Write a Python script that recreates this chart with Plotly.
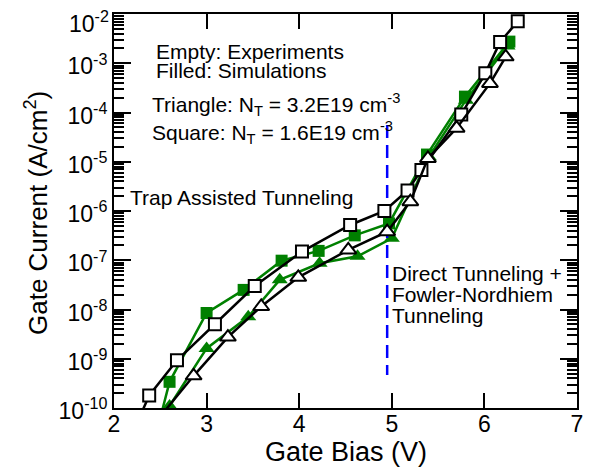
import plotly.graph_objects as go

# ---- data ----
exp_sq_x = [2.25, 2.38, 2.68, 3.09, 3.52, 4.03, 4.55, 4.92, 5.17, 5.32, 5.75, 6.01, 6.17, 6.36]
exp_sq_y = [5.0e-11, 1.8e-10, 9.3e-10, 5.0e-9, 3.0e-8, 1.5e-7, 5.2e-7, 1.0e-6, 2.6e-6, 6.8e-6, 9.1e-5, 6.3e-4, 2.7e-3, 7.1e-3]

exp_tri_x = [2.40, 2.86, 3.23, 3.59, 3.99, 4.53, 4.95, 5.20, 5.39, 5.70, 6.06, 6.23]
exp_tri_y = [4.0e-11, 4.5e-10, 2.75e-9, 1.15e-8, 4.5e-8, 1.62e-7, 3.8e-7, 1.55e-6, 1.17e-5, 4.8e-5, 3.9e-4, 1.35e-3]

sim_sq_x = [2.50, 2.60, 3.00, 3.40, 3.81, 4.21, 4.60, 4.97, 5.38, 5.79, 6.27]
sim_sq_y = [6.3e-11, 3.4e-10, 8.5e-9, 2.5e-8, 9.8e-8, 1.55e-7, 3.2e-7, 5.6e-7, 1.4e-5, 2.1e-4, 2.75e-3]

sim_tri_x = [2.60, 3.00, 3.45, 3.79, 4.22, 4.63, 5.00, 5.40, 5.80, 6.25]
sim_tri_y = [1.1e-10, 1.62e-9, 7.1e-9, 4.0e-8, 8.7e-8, 1.2e-7, 2.8e-7, 1.26e-5, 1.78e-4, 2.24e-3]

vline_x = [4.95, 4.95]
vline_y = [5.6e-5, 4.7e-10]

x_ticks = [2, 3, 4, 5, 6, 7]
y_ticks = [1e-10, 1e-9, 1e-8, 1e-7, 1e-6, 1e-5, 1e-4, 1e-3, 1e-2]
# the top label (10^-2) is drawn as an annotation so it stays inside the page
y_ticktext = ["10<sup>-10</sup>", "10<sup>-9</sup>", "10<sup>-8</sup>", "10<sup>-7</sup>",
              "10<sup>-6</sup>", "10<sup>-5</sup>", "10<sup>-4</sup>", "10<sup>-3</sup>",
              ""]
top_label = "10<sup>-2</sup>"
minor_digits = [2, 3, 4, 5, 6, 7, 8, 9]

FONT = "Liberation Sans, Arial, sans-serif"
GREEN = "#008000"

fig = go.Figure()

# simulations (filled, green) drawn first
fig.add_trace(go.Scatter(x=sim_sq_x, y=sim_sq_y, mode="lines+markers",
                         line=dict(color=GREEN, width=2.5),
                         marker=dict(symbol="square", size=12, color=GREEN,
                                     line=dict(width=0))))
fig.add_trace(go.Scatter(x=sim_tri_x, y=sim_tri_y, mode="lines+markers",
                         line=dict(color=GREEN, width=2.5),
                         marker=dict(symbol="triangle-up", size=14, color=GREEN,
                                     line=dict(width=0))))
# dashed separator
fig.add_trace(go.Scatter(x=vline_x, y=vline_y, mode="lines",
                         line=dict(color="#0000ff", width=2.5, dash="13px,7px")))
# experiments (open, black)
fig.add_trace(go.Scatter(x=exp_sq_x, y=exp_sq_y, mode="lines+markers",
                         line=dict(color="black", width=2.5),
                         marker=dict(symbol="square", size=12, color="white",
                                     line=dict(color="black", width=2))))
fig.add_trace(go.Scatter(x=exp_tri_x, y=exp_tri_y, mode="lines+markers",
                         line=dict(color="black", width=2.5),
                         marker=dict(symbol="triangle-up", size=14, color="white",
                                     line=dict(color="black", width=2))))

L, R, T, B = 114, 25, 14, 61
W, H = 602, 469
pw, ph = W - L - R, H - T - B

def px(xp):
    return (xp - L) / pw

def py(yp):
    return (H - B - yp) / ph

ann_font = dict(family=FONT, size=21, color="black")
annotations = [
    ("Empty: Experiments", 154, 51),
    ("Filled: Simulations", 154, 70),
    ("Triangle: N<sub>T</sub> = 3.2E19 cm<sup>-3</sup>", 150, 105),
    ("Square: N<sub>T</sub> = 1.6E19 cm<sup>-3</sup>", 150, 132),
    ("Trap Assisted Tunneling", 128, 197),
    ("Direct Tunneling +", 390, 273),
    ("Fowler-Nordhiem", 390, 294),
    ("Tunneling", 390, 315),
]
for text, xp, yp in annotations:
    fig.add_annotation(text=text, xref="paper", yref="paper", x=px(xp), y=py(yp),
                       xanchor="left", yanchor="middle", showarrow=False,
                       font=ann_font)

# top y tick label
fig.add_annotation(text=top_label, xref="paper", yref="paper", x=px(111), y=py(22),
                   xanchor="right", yanchor="middle", showarrow=False,
                   font=dict(family=FONT, size=23, color="black"))

# axis titles placed explicitly
fig.add_annotation(text="Gate Current (A/cm<sup>2</sup>)", xref="paper", yref="paper",
                   x=px(36), y=py(213), xanchor="center", yanchor="middle",
                   textangle=-90, showarrow=False,
                   font=dict(family=FONT, size=26, color="black"))
fig.add_annotation(text="Gate Bias (V)", xref="paper", yref="paper",
                   x=px(346), y=py(452), xanchor="center", yanchor="middle",
                   showarrow=False,
                   font=dict(family=FONT, size=27, color="black"))

fig.update_layout(
    width=W, height=H,
    margin=dict(l=L, r=R, t=T, b=B, pad=0, autoexpand=False),
    paper_bgcolor="white", plot_bgcolor="white",
    showlegend=False,
    font=dict(family=FONT, color="black"),
)
fig.update_xaxes(
    range=[2, 7], tickvals=x_ticks, ticks="inside", ticklen=15, tickwidth=2,
    tickcolor="black", showline=True, linecolor="black", linewidth=2,
    mirror="allticks", showgrid=False, zeroline=False, automargin=False,
    tickfont=dict(family=FONT, size=23, color="black"),
    ticklabelstandoff=-6,
)
minor_vals = [d * t for t in y_ticks[:-1] for d in minor_digits]
fig.update_yaxes(
    type="log", range=[-10, -2], tickvals=y_ticks, ticktext=y_ticktext,
    ticks="inside", ticklen=17, tickwidth=2, tickcolor="black",
    minor=dict(ticks="inside", ticklen=10, tickwidth=1.5, tickcolor="black",
               tickvals=minor_vals, showgrid=False),
    showline=True, linecolor="black", linewidth=2, mirror="allticks",
    showgrid=False, zeroline=False, automargin=False,
    tickfont=dict(family=FONT, size=23, color="black"),
    ticklabeloverflow="allow",
    ticklabelstandoff=0,
    ticklabelshift=3,
)

fig.write_html("out.html")
